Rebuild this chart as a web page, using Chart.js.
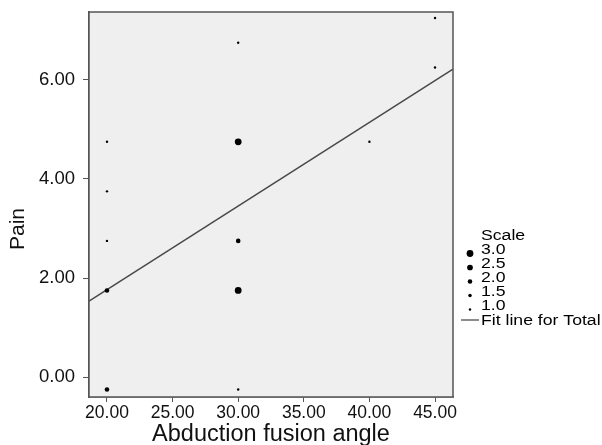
<!DOCTYPE html>
<html>
<head>
<meta charset="utf-8">
<script src="https://cdn.jsdelivr.net/npm/chart.js@4.4.1/dist/chart.umd.min.js"></script>
<style>
  html, body { margin: 0; padding: 0; background: #fff; }
  #wrap { width: 602px; height: 445px; }
</style>
</head>
<body>
<div id="wrap"><canvas id="c" width="602" height="445"></canvas></div>
<script>
// observations: angle, pain, and how many patients share the point
const angles = [20, 20, 20, 20, 20, 30, 30, 30, 30, 30, 40, 45, 45];
const pains  = [-0.25, 1.75, 2.75, 3.75, 4.75, -0.25, 1.75, 2.75, 4.75, 6.75, 4.75, 6.25, 7.25];
const counts = [2, 2, 1, 1, 1, 1, 3, 2, 3, 1, 1, 1, 1];

const xTicks = [20, 25, 30, 35, 40, 45];
const yTicks = [0, 2, 4, 6];
const scaleLegend = [3.0, 2.5, 2.0, 1.5, 1.0];

const xMin = 18.63, xMax = 46.37;
const yMin = -0.4, yMax = 7.37;

const FONT = "'Liberation Sans', Arial, sans-serif";
const radiusFor = (s) => s * 1.1 + 0.1;

// weighted least squares fit (counts as weights)
const n = counts.reduce((a, b) => a + b, 0);
const mx = angles.reduce((a, x, i) => a + x * counts[i], 0) / n;
const my = pains.reduce((a, y, i) => a + y * counts[i], 0) / n;
let sxy = 0, sxx = 0;
angles.forEach((x, i) => {
  sxy += counts[i] * (x - mx) * (pains[i] - my);
  sxx += counts[i] * (x - mx) * (x - mx);
});
const slope = sxy / sxx;
const icpt = my - slope * mx;
const fitLine = [xMin, xMax].map((x) => ({ x, y: icpt + slope * x }));

// text drawn wider, like the scanned figure
const wideText = (ctx, txt, x, y, sx) => {
  ctx.save();
  ctx.translate(x, y);
  ctx.scale(sx, 1);
  ctx.fillText(txt, 0, 0);
  ctx.restore();
};

const boxPlugin = {
  id: "box",
  beforeDatasetsDraw(chart) {
    const { ctx, chartArea: a } = chart;
    ctx.save();
    ctx.fillStyle = "#efefef";
    ctx.fillRect(a.left, a.top, a.right - a.left, a.bottom - a.top);
    ctx.restore();
  },
  afterDraw(chart) {
    const { ctx, chartArea: a } = chart;
    ctx.save();
    ctx.strokeStyle = "#555";
    ctx.lineWidth = 1.5;
    ctx.strokeRect(a.left, a.top, a.right - a.left, a.bottom - a.top);

    // y axis title
    ctx.fillStyle = "#111";
    ctx.font = "21px " + FONT;
    ctx.textAlign = "center";
    ctx.textBaseline = "middle";
    ctx.translate(18, 229);
    ctx.rotate(-Math.PI / 2);
    ctx.fillText("Pain", 0, 0);
    ctx.setTransform(1, 0, 0, 1, 0, 0);

    // legend on the right
    ctx.textAlign = "left";
    ctx.textBaseline = "alphabetic";
    ctx.fillStyle = "#000";
    ctx.font = "14px " + FONT;
    const lx = 481, dotX = 470, sx = 1.26;
    wideText(ctx, "Scale", lx, 240, sx);
    scaleLegend.forEach((s, i) => {
      const y = 254 + i * 14;
      wideText(ctx, s.toFixed(1), lx, y, sx);
      ctx.beginPath();
      ctx.arc(dotX, y - 0.5, radiusFor(s), 0, Math.PI * 2);
      ctx.fill();
    });
    wideText(ctx, "Fit line for Total", lx, 325, sx);
    ctx.strokeStyle = "#666";
    ctx.lineWidth = 1.5;
    ctx.beginPath();
    ctx.moveTo(461, 320);
    ctx.lineTo(479, 320);
    ctx.stroke();
    ctx.restore();
  },
};

new Chart(document.getElementById("c"), {
  type: "scatter",
  data: {
    datasets: [
      {
        label: "Total",
        data: angles.map((x, i) => ({ x, y: pains[i] })),
        backgroundColor: "#000",
        borderWidth: 0,
        pointRadius: counts.map(radiusFor),
        pointHoverRadius: counts.map(radiusFor),
      },
      {
        type: "line",
        label: "Fit line for Total",
        data: fitLine,
        borderColor: "#484848",
        borderWidth: 1.5,
        pointRadius: 0,
        fill: false,
      },
    ],
  },
  options: {
    responsive: false,
    animation: false,
    layout: { padding: { left: 0, right: 149, top: 12, bottom: 0 } },
    plugins: { legend: { display: false }, tooltip: { enabled: false } },
    scales: {
      x: {
        type: "linear",
        min: xMin,
        max: xMax,
        afterBuildTicks: (s) => { s.ticks = xTicks.map((v) => ({ value: v })); },
        afterFit: (s) => { s.height = 48; s.paddingLeft = 0; s.paddingRight = 0; },
        grid: { drawOnChartArea: false, color: "#555", tickLength: 5 },
        border: { color: "#555", width: 1.5 },
        ticks: {
          color: "#111",
          font: { family: FONT, size: 17.5 },
          padding: 1,
          maxRotation: 0,
          callback: (v) => v.toFixed(2),
        },
        title: {
          display: true,
          text: "Abduction fusion angle",
          color: "#111",
          font: { family: FONT, size: 23.5 },
          padding: { top: 0, bottom: -4 },
        },
      },
      y: {
        min: yMin,
        max: yMax,
        afterBuildTicks: (s) => { s.ticks = yTicks.map((v) => ({ value: v })); },
        afterFit: (s) => { s.width = 89; s.paddingTop = 0; s.paddingBottom = 0; },
        grid: { drawOnChartArea: false, color: "#555", tickLength: 6 },
        border: { color: "#555", width: 1.5 },
        ticks: {
          color: "#111",
          font: { family: FONT, size: 18.5 },
          padding: 8,
          callback: (v) => v.toFixed(2),
        },
        title: { display: false },
      },
    },
  },
  plugins: [boxPlugin],
});
</script>
</body>
</html>
